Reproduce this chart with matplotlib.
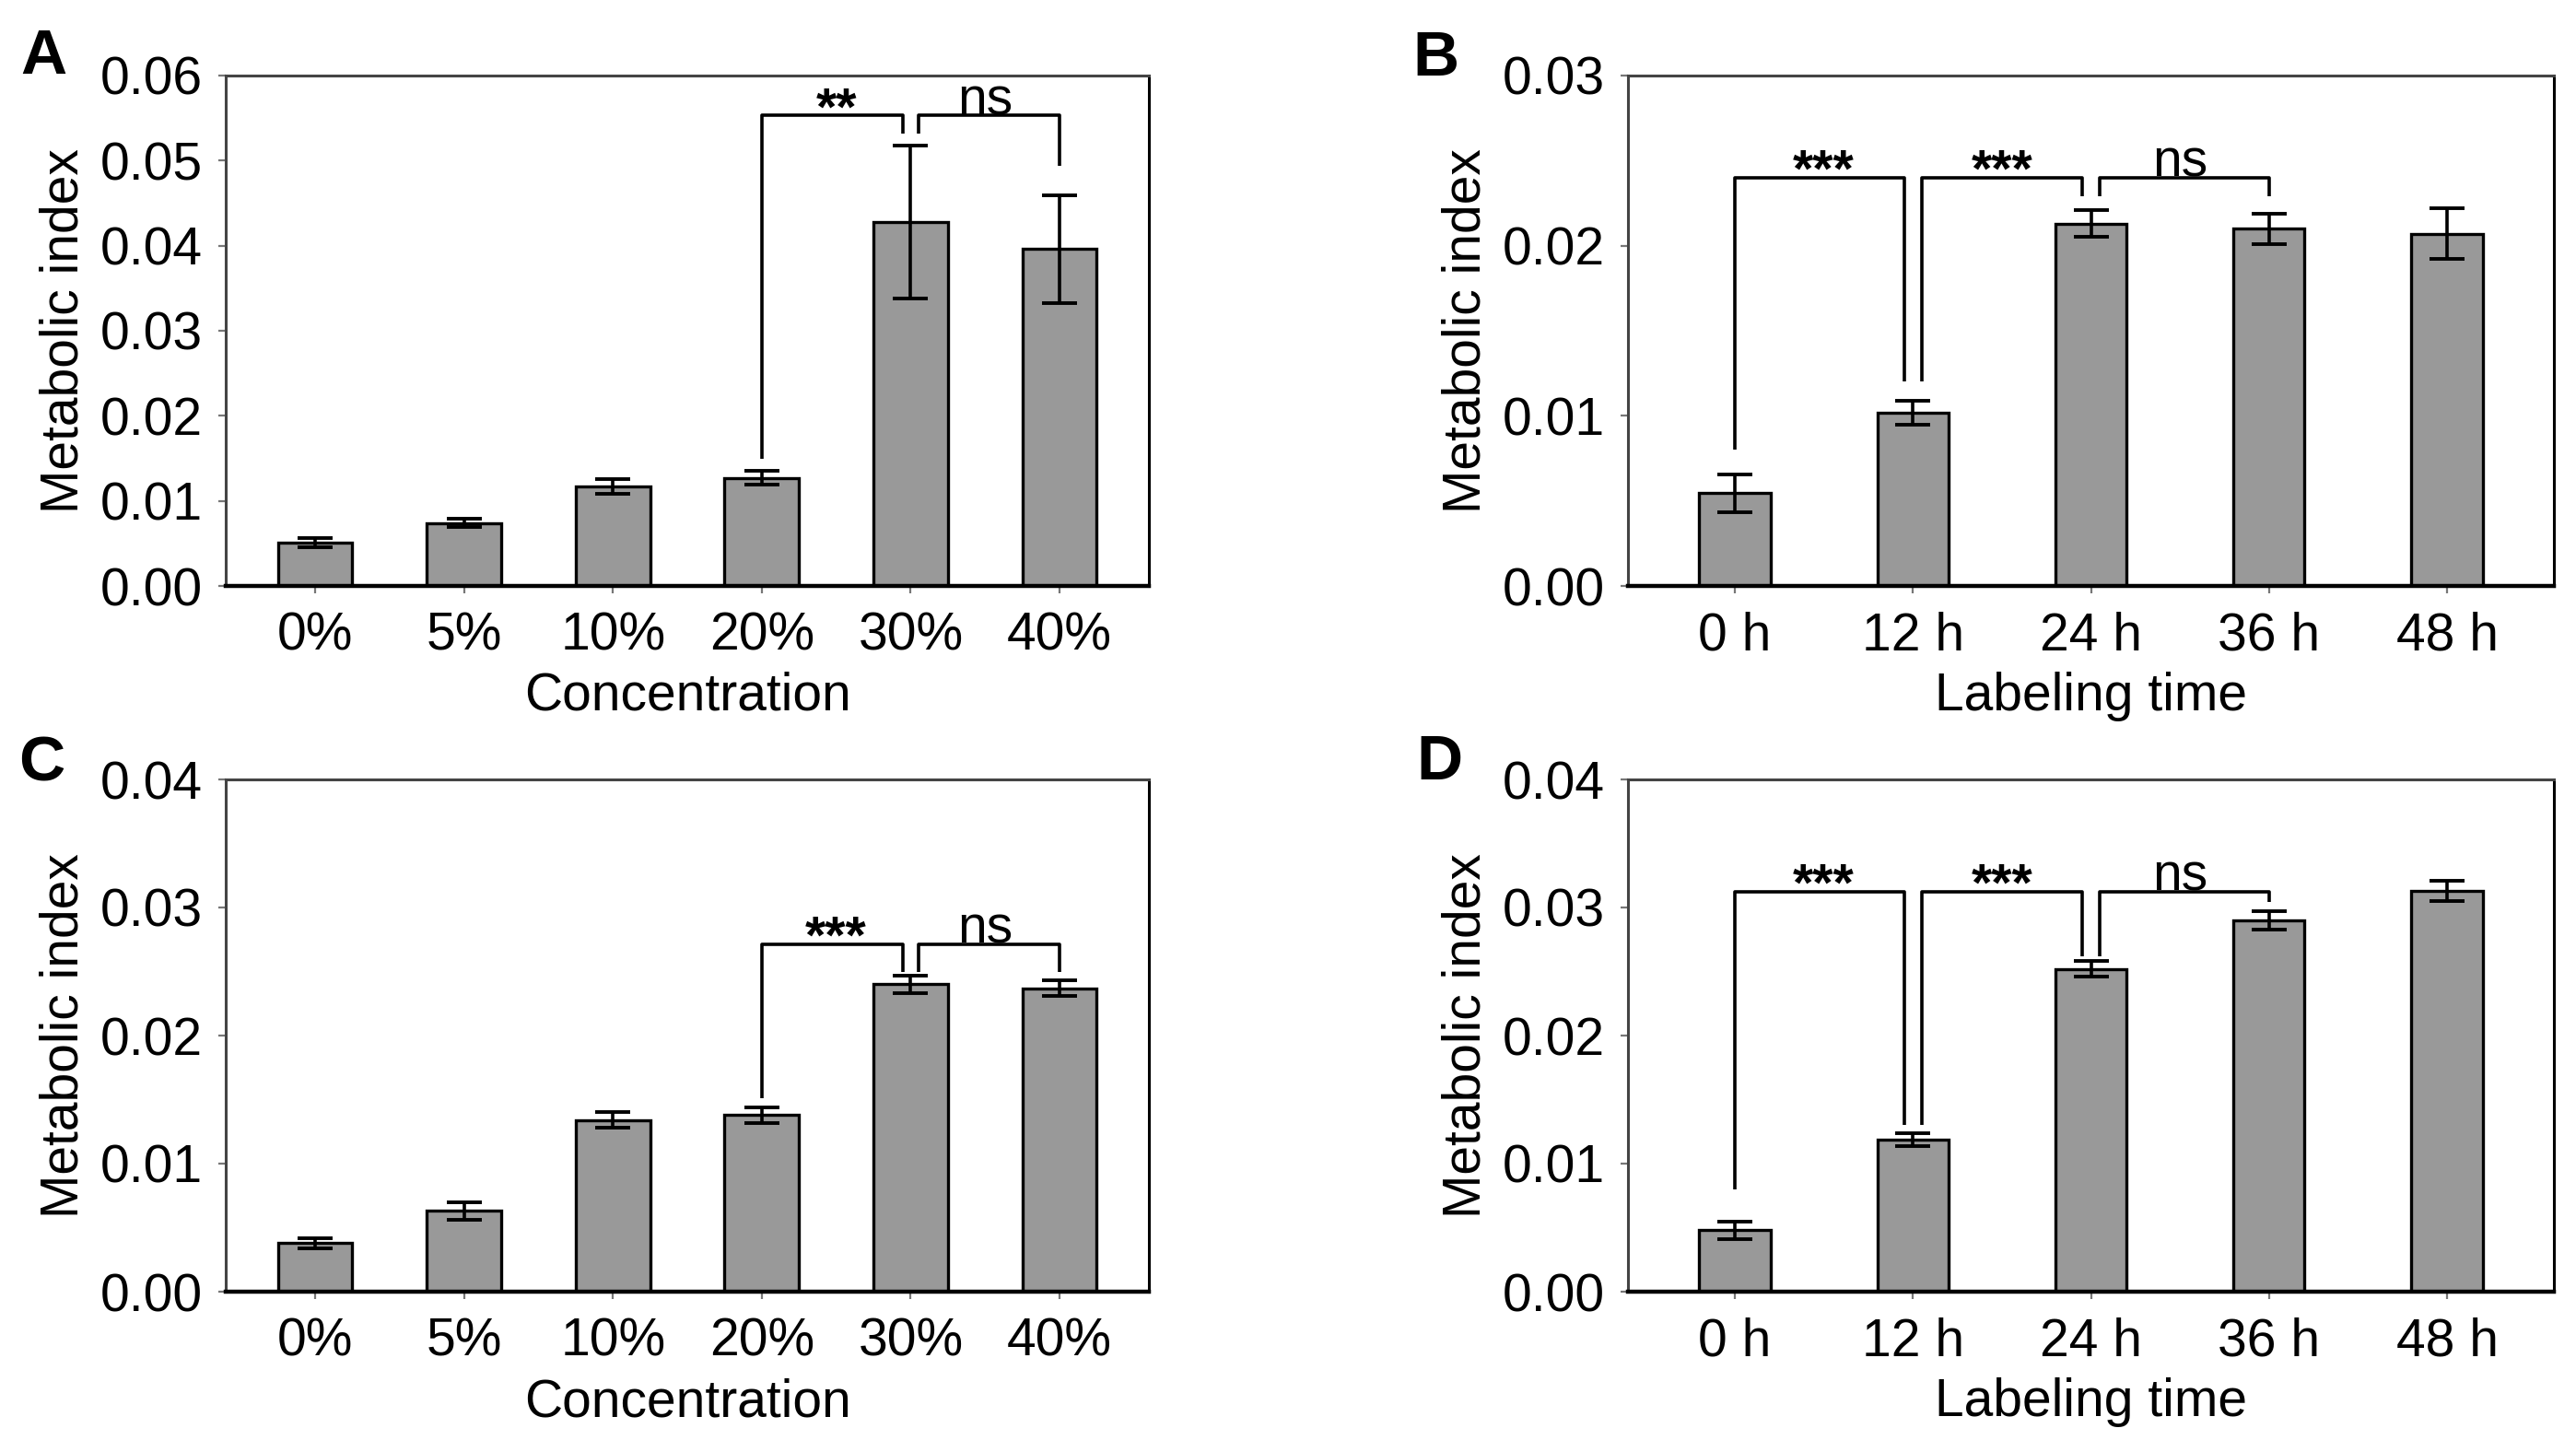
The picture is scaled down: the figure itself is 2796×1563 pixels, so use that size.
import matplotlib
matplotlib.use('agg')
import matplotlib.pyplot as plt

plt.rcParams['font.family'] = ['Liberation Sans', 'DejaVu Sans']

conc_labels = ['0%', '5%', '10%', '20%', '30%', '40%']
time_labels = ['0 h', '12 h', '24 h', '36 h', '48 h']

a_mean = [0.0051, 0.0074, 0.0117, 0.0127, 0.0428, 0.0396]
a_err = [0.0005, 0.0005, 0.0009, 0.0008, 0.0090, 0.0063]
b_mean = [0.00545, 0.0102, 0.0213, 0.0210, 0.0207]
b_err = [0.0011, 0.0007, 0.0008, 0.0009, 0.0015]
c_mean = [0.0038, 0.0063, 0.0134, 0.0138, 0.0240, 0.0237]
c_err = [0.0004, 0.0007, 0.0006, 0.0006, 0.0007, 0.0006]
d_mean = [0.0048, 0.0119, 0.0252, 0.0290, 0.0313]
d_err = [0.0007, 0.0005, 0.0006, 0.0007, 0.0008]

# (left bar, right bar, bracket height, left leg end, right leg end, label)
a_sig = [(3, 4, 0.0553, 0.0149, 0.0532, '**'), (4, 5, 0.0553, 0.0532, 0.0494, 'ns')]
b_sig = [(0, 1, 0.0240, 0.0080, 0.0120, '***'), (1, 2, 0.0240, 0.0120, 0.0229, '***'),
         (2, 3, 0.0240, 0.0229, 0.0229, 'ns')]
c_sig = [(3, 4, 0.0271, 0.0151, 0.0250, '***'), (4, 5, 0.0271, 0.0250, 0.0250, 'ns')]
d_sig = [(0, 1, 0.0312, 0.0080, 0.0130, '***'), (1, 2, 0.0312, 0.0130, 0.0262, '***'),
         (2, 3, 0.0312, 0.0262, 0.0304, 'ns')]

FS = 20.5
W, H = 2796, 1563


def panel(rect, labels, means, errs, sig, ymax, width, xlabel):
  l, t, r, b = rect
  ax = fig.add_axes([l / W, 1 - b / H, (r - l) / W, (b - t) / H])
  x = list(range(len(labels)))
  ax.bar(x, means, width=width, color='#999999', edgecolor='black', linewidth=1.2, zorder=2)
  ax.errorbar(x, means, yerr=errs, fmt='none', ecolor='black', elinewidth=1.3,
              capsize=7, capthick=1.4, zorder=3)
  ax.set_xlim(-0.6, len(labels) - 0.4)
  ax.set_ylim(0, ymax)
  ticks = [i * 0.01 for i in range(int(round(ymax / 0.01)) + 1)]
  ax.set_yticks(ticks)
  ax.set_yticklabels(['%.2f' % v for v in ticks])
  ax.set_xticks(x)
  ax.set_xticklabels(labels)
  ax.tick_params(axis='both', labelsize=FS, color='#777777', length=3, width=0.8)
  ax.tick_params(axis='y', pad=6)
  ax.tick_params(axis='x', pad=7)
  for side in ['top', 'left']:
    ax.spines[side].set_color('#444444')
    ax.spines[side].set_linewidth(1.1)
  ax.spines['right'].set_color('black')
  ax.spines['right'].set_linewidth(1.1)
  ax.spines['bottom'].set_color('black')
  ax.spines['bottom'].set_linewidth(1.6)

  gap = 0.05
  lefts = [s[0] for s in sig]
  rights = [s[1] for s in sig]
  for i, j, y, yl, yr, lab in sig:
    xl = i + gap if i in rights else i
    xr = j - gap if j in lefts else j
    ax.plot([xl, xl, xr, xr], [yl, y, y, yr], color='black', lw=1.3,
            solid_joinstyle='round', solid_capstyle='butt', zorder=4)
    if lab == 'ns':
      ax.annotate(lab, ((i + j) / 2, y), xytext=(0, 0.5), textcoords='offset points',
                  ha='center', va='baseline', fontsize=FS)
    else:
      ax.annotate(lab, ((i + j) / 2, y), xytext=(0, -3.5), textcoords='offset points',
                  ha='center', va='baseline', fontsize=FS, fontweight='bold')

  ax.text(-0.175, 0.5, 'Metabolic index', transform=ax.transAxes, rotation=90,
          ha='center', va='center', fontsize=FS)
  ax.text(0.5, -0.216, xlabel, transform=ax.transAxes, ha='center', va='center', fontsize=FS)
  return ax


fig = plt.figure(figsize=(W / 200, H / 200), dpi=200)

panel((245, 82, 1247, 636), conc_labels, a_mean, a_err, a_sig, 0.06, 0.5, 'Concentration')
panel((1767, 82, 2772, 636), time_labels, b_mean, b_err, b_sig, 0.03, 0.4, 'Labeling time')
panel((245, 846, 1247, 1402), conc_labels, c_mean, c_err, c_sig, 0.04, 0.5, 'Concentration')
panel((1767, 846, 2772, 1402), time_labels, d_mean, d_err, d_sig, 0.04, 0.4, 'Labeling time')

for letter, px, py in [('A', 47, 62), ('B', 1558, 64), ('C', 45, 830), ('D', 1562, 828)]:
  fig.text(px / W, 1 - py / H, letter, ha='center', va='center', fontsize=25, fontweight='bold')

plt.savefig('out.png', dpi=200)
plt.close()
